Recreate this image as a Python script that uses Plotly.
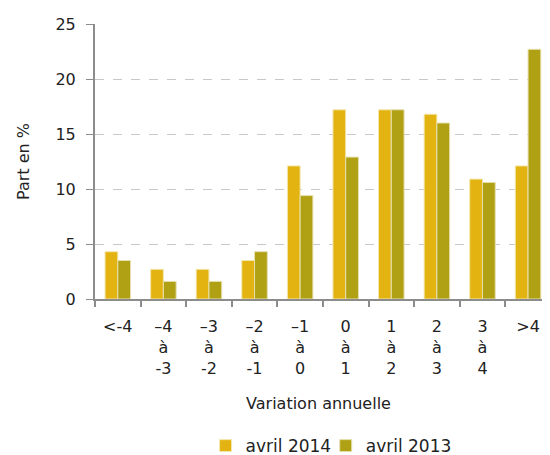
import plotly.graph_objects as go

categories = ["&lt;-4", "–4<br>à<br>-3", "–3<br>à<br>-2", "–2<br>à<br>-1", "–1<br>à<br>0",
              "0<br>à<br>1", "1<br>à<br>2", "2<br>à<br>3", "3<br>à<br>4", "&gt;4"]
avril_2014 = [4.3, 2.7, 2.7, 3.5, 12.1, 17.2, 17.2, 16.8, 10.9, 12.1]
avril_2013 = [3.5, 1.6, 1.6, 4.3, 9.4, 12.9, 17.2, 16.0, 10.6, 22.7]

font_family = "DejaVu Sans, sans-serif"

fig = go.Figure()
fig.add_trace(go.Bar(x=categories, y=avril_2014, name="avril 2014", legend="legend",
                     marker=dict(color="#E3B411", line=dict(color="#F3E7B0", width=1))))
fig.add_trace(go.Bar(x=categories, y=avril_2013, name="avril 2013", legend="legend2",
                     marker=dict(color="#B0A014", line=dict(color="#E6E0B0", width=1))))

legend_common = dict(orientation="h", xref="container", yref="container",
                     xanchor="left", y=0.02, yanchor="middle",
                     font=dict(size=17), itemwidth=30, bgcolor="rgba(0,0,0,0)")

fig.update_layout(
    width=534, height=447,
    margin=dict(l=87, r=0, t=16, b=156, pad=0, autoexpand=False),
    paper_bgcolor="white", plot_bgcolor="white",
    barmode="group", bargap=0.44, bargroupgap=0,
    font=dict(family=font_family, size=16, color="#222222"),
    showlegend=True,
    legend=dict(x=0.370, **legend_common),
    legend2=dict(x=0.595, **legend_common),
)
fig.update_xaxes(
    type="category", range=[-0.5, 9.306], tickson="boundaries",
    ticks="outside", ticklen=6, tickwidth=2, tickcolor="#8c8c8c",
    showline=True, linecolor="#8c8c8c", linewidth=2, automargin=False,
    showgrid=False, tickfont=dict(size=16), ticklabelstandoff=12,
    title=dict(text="Variation annuelle", font=dict(size=16), standoff=21),
)
fig.update_yaxes(
    range=[0, 25], tickvals=[0, 5, 10, 15, 20, 25],
    ticks="outside", ticklen=7, tickwidth=1, tickcolor="#8c8c8c",
    showline=True, linecolor="#8c8c8c", linewidth=2, automargin=False,
    showgrid=True, gridcolor="#c8c8c8", griddash="dash", gridwidth=1,
    zeroline=False, tickfont=dict(size=16), ticklabelstandoff=7,
    title=dict(text="Part en %", font=dict(size=16), standoff=22),
)

fig.write_html("out.html")
